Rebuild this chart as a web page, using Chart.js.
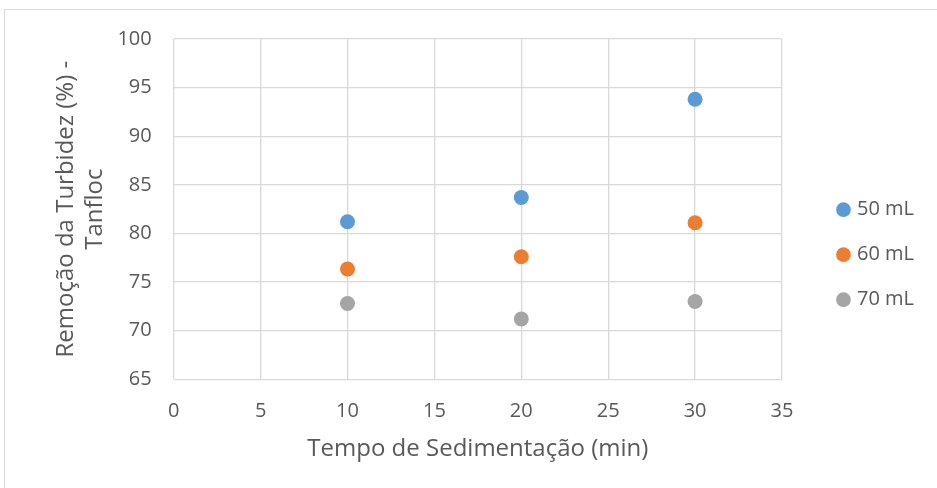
<!DOCTYPE html>
<html>
<head>
<meta charset="utf-8">
<script src="https://cdn.jsdelivr.net/npm/chart.js@4"></script>
<style>
  html, body { margin: 0; padding: 0; background: #ffffff; overflow: hidden; }
  #frame { position: absolute; left: 4px; top: 9px; width: 1000px; height: 1000px; border: 1px solid #d9d9d9; }
  #wrap { position: absolute; left: 0; top: 0; width: 937px; height: 488px; }
</style>
</head>
<body>
<div id="frame"></div>
<div id="wrap"><canvas id="c" width="937" height="488"></canvas></div>
<script>
// Sedimentation time (min)
const tempos = [10, 20, 30];
// Turbidity removal (%) with Tanfloc, per dosage
const serie50 = [81.2, 83.7, 93.8];
const serie60 = [76.35, 77.6, 81.1];
const serie70 = [72.8, 71.2, 73.0];
const rotulos = ['50 mL', '60 mL', '70 mL'];
const cores = ['#5b9bd5', '#ed7d31', '#a5a5a5'];

const FONT = '"Open Sans", "Noto Sans", sans-serif';
const TXT = '#595959';
const LEGEND_DX = 33;  // horizontal nudge of the legend block
const LEGEND_DY = 3.5; // vertical nudge of the legend block

function pts(ys) { return tempos.map((x, i) => ({ x: x, y: ys[i] })); }

const datasets = [serie50, serie60, serie70].map((s, i) => ({
  label: rotulos[i],
  data: pts(s),
  backgroundColor: cores[i],
  borderColor: cores[i],
  pointRadius: 7.5,
  pointHoverRadius: 7.5,
  pointBorderWidth: 0,
  showLine: false
}));

const legendNudge = {
  id: 'legendNudge',
  afterLayout(chart) {
    const lg = chart.legend;
    if (lg) {
      lg.top += LEGEND_DY; lg.bottom += LEGEND_DY;
      lg.left += LEGEND_DX; lg.right += LEGEND_DX;
    }
  }
};

new Chart(document.getElementById('c'), {
  type: 'scatter',
  data: { datasets },
  plugins: [legendNudge],
  options: {
    responsive: false,
    animation: false,
    events: [],
    layout: { padding: { top: 39, right: 46, bottom: 24.6, left: 52 } },
    plugins: {
      legend: {
        position: 'right',
        align: 'center',
        labels: {
          usePointStyle: true,
          pointStyle: 'circle',
          boxWidth: 7,
          boxHeight: 10.4,
          padding: 25,
          color: TXT,
          font: { family: FONT, size: 20 }
        }
      },
      tooltip: { enabled: false }
    },
    scales: {
      x: {
        type: 'linear',
        min: 0, max: 35,
        ticks: { stepSize: 5, color: TXT, font: { family: FONT, size: 20 }, padding: 20 },
        grid: { color: '#d9d9d9', lineWidth: 1.3, drawTicks: false },
        border: { display: false },
        title: { display: true, text: 'Tempo de Sedimentação (min)', color: TXT, font: { family: FONT, size: 24 }, padding: 0 },
        afterFit: (s) => { s.height = 84.1; }
      },
      y: {
        min: 65, max: 100,
        ticks: { stepSize: 5, color: TXT, font: { family: FONT, size: 20 }, padding: 22 },
        grid: { color: '#d9d9d9', lineWidth: 1.3, drawTicks: false },
        border: { display: false },
        title: { display: true, text: ['Remoção da Turbidez (%) -', 'Tanfloc'], color: TXT, font: { family: FONT, size: 24, lineHeight: 1.2 }, padding: 0 },
        afterFit: (s) => { s.width = 173.7 - 52; }
      }
    }
  }
});
</script>
</body>
</html>
